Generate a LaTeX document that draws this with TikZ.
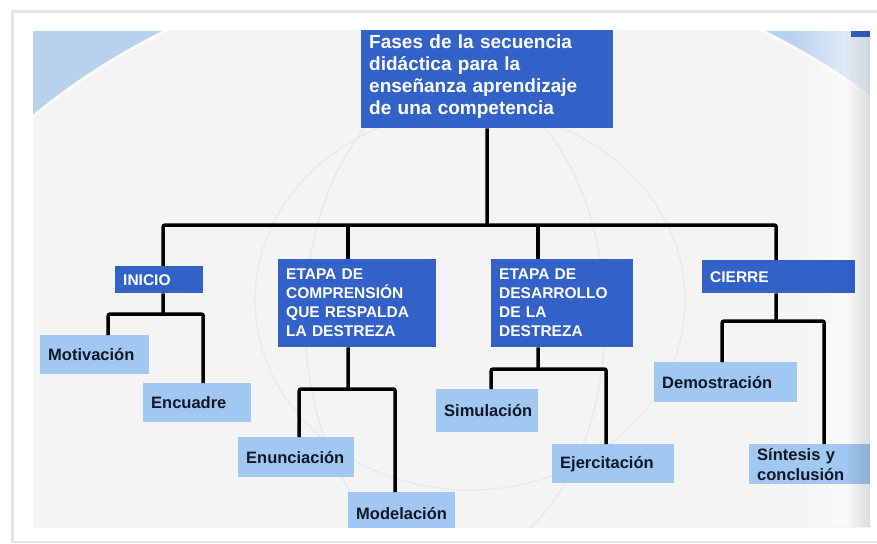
\documentclass[tikz,border=0pt]{standalone}
\usepackage{fontspec}
\setmainfont{Liberation Sans}
\usetikzlibrary{fadings}
\definecolor{darkb}{HTML}{3262C8}
\definecolor{lightb}{HTML}{A0C8F0}
\definecolor{cornerb}{HTML}{B8D2EE}
\definecolor{slidebg}{HTML}{F4F4F4}
\definecolor{navy}{HTML}{101828}
\definecolor{wmark}{HTML}{E3EDEB}
\tikzfading[name=fadeinright, left color=transparent!100, right color=transparent!0]
\tikzset{
 darkbox/.style={fill=darkb, text=white, font=\bfseries\fontsize{15.5}{19}\selectfont, align=left, anchor=north west, inner xsep=8pt, inner ysep=0pt},
 lightbox/.style={fill=lightb, text=navy, font=\bfseries\fontsize{16.5}{20}\selectfont, align=left, anchor=north west, inner xsep=8pt, inner ysep=0pt},
 conn/.style={draw=black, line width=3.5pt, rounded corners=2pt},
}
\begin{document}
\begin{tikzpicture}[x=1pt,y=-1pt]
\useasboundingbox (0,0) rectangle (877,543);
\fill[white] (0,0) rectangle (877,543);
\clip (0,0) rectangle (877,543);
% card
\fill[black!10] (11,10) rectangle (890,543);
\fill[white] (14,13) rectangle (890,541);
\begin{scope}
\clip (33,31) rectangle (870,527);
\fill[cornerb] (33,31) rectangle (870,527);
\fill[slidebg] (464,641) circle (680pt);
\draw[white, line width=3pt, opacity=0.6] (464,641) circle (679pt);
\draw[wmark, line width=1.5pt] (455,320) ellipse (150pt and 240pt);
\draw[wmark, line width=1.2pt] (470,300) ellipse (215pt and 190pt);
\fill[white, opacity=0.8, path fading=fadeinright] (790,31) rectangle (870,527);
\fill[darkb] (851,31) rectangle (870,37);
% nodes
\node[darkbox, text width=236pt, minimum height=104pt, font=\bfseries\fontsize{19}{22}\selectfont] (top) at (361,24) {Fases de la secuencia\\didáctica para la\\enseñanza aprendizaje\\de una competencia};
\node[darkbox, text width=72pt, minimum height=27pt] (inicio) at (115,266) {INICIO};
\node[darkbox, text width=142pt, minimum height=88pt] (comp) at (278,259) {ETAPA DE\\COMPRENSIÓN\\QUE RESPALDA\\LA DESTREZA};
\node[darkbox, text width=126pt, minimum height=88pt] (desa) at (491,259) {ETAPA DE\\DESARROLLO\\DE LA\\DESTREZA};
\node[darkbox, text width=137pt, minimum height=33pt] (cierre) at (702,260) {CIERRE};
\node[lightbox, text width=93pt, minimum height=39pt] (motiv) at (40,335) {Motivación};
\node[lightbox, text width=92pt, minimum height=39pt] (encu) at (143,383) {Encuadre};
\node[lightbox, text width=100pt, minimum height=40pt] (enun) at (238,437) {Enunciación};
\node[lightbox, text width=91pt, minimum height=42pt] (model) at (348,492) {Modelación};
\node[lightbox, text width=86pt, minimum height=43pt] (simu) at (436,389) {Simulación};
\node[lightbox, text width=106pt, minimum height=39pt] (ejer) at (552,444) {Ejercitación};
\node[lightbox, text width=127pt, minimum height=40pt] (demo) at (654,362) {Demostración};
\node[lightbox, text width=105pt, minimum height=40pt] (sint) at (749,444) {Síntesis y\\conclusión};
\end{scope}
% connectors
\coordinate (bus) at (487,225);
\draw[conn] (top.south) -- (bus);
\draw[conn] ([xshift=4pt]inicio.north) |- (bus) -| ([xshift=-2.5pt]cierre.north);
\draw[conn] ([xshift=-9pt]comp.north) -- ([xshift=-9pt]comp.north |- bus);
\draw[conn] ([xshift=-24pt]desa.north) -- ([xshift=-24pt]desa.north |- bus);
% inicio children
\coordinate (j1) at (163,314);
\draw[conn] ([xshift=4pt]inicio.south) -- (j1);
\draw[conn] ([xshift=13.5pt]motiv.north) |- (j1) -| ([xshift=6pt]encu.north);
% comprension children
\coordinate (j2) at (348,389);
\draw[conn] ([xshift=-9pt]comp.south) -- (j2);
\draw[conn] ([xshift=3pt]enun.north) |- (j2) -| ([xshift=-6.5pt]model.north);
% desarrollo children
\coordinate (j3) at (538,369);
\draw[conn] ([xshift=-24pt]desa.south) -- (j3);
\draw[conn] ([xshift=4pt]simu.north) |- (j3) -| ([xshift=-7pt]ejer.north);
% cierre children
\coordinate (j4) at (776,321);
\draw[conn] ([xshift=-2.5pt]cierre.south) -- (j4);
\draw[conn] ([xshift=-3.5pt]demo.north) |- (j4) -| ([xshift=14.5pt]sint.north);
% right edge shade
\fill[black, opacity=0.13, path fading=fadeinright] (845,31) rectangle (870,527);
\end{tikzpicture}
\end{document}
